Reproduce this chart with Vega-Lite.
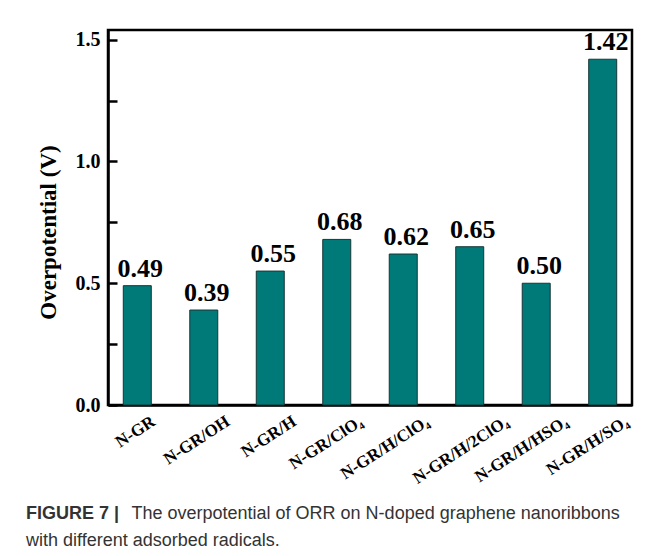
{
  "$schema": "https://vega.github.io/schema/vega-lite/v6.json",
  "autosize": "none",
  "padding": {"left": 108, "top": 30, "right": 26, "bottom": 151},
  "width": 524,
  "height": 375,
  "background": "white",
  "title": {
    "text": "FIGURE 7 |",
    "subtitle": "with different adsorbed radicals.",
    "orient": "bottom",
    "anchor": "start",
    "frame": "group",
    "dx": -82,
    "dy": -21,
    "font": "Liberation Sans",
    "fontSize": 18,
    "fontWeight": "bold",
    "color": "#333333",
    "subtitleFont": "Liberation Sans",
    "subtitleFontSize": 18,
    "subtitleColor": "#333333",
    "subtitlePadding": 9
  },
  "data": {
    "values": [
      {"name": "N-GR", "value": 0.49},
      {"name": "N-GR/OH", "value": 0.39},
      {"name": "N-GR/H", "value": 0.55},
      {"name": "N-GR/ClO₄", "value": 0.68},
      {"name": "N-GR/H/ClO₄", "value": 0.62},
      {"name": "N-GR/H/2ClO₄", "value": 0.65},
      {"name": "N-GR/H/HSO₄", "value": 0.50},
      {"name": "N-GR/H/SO₄", "value": 1.42}
    ]
  },
  "encoding": {
    "x": {
      "field": "name",
      "type": "nominal",
      "sort": null,
      "scale": {"paddingInner": 0.579, "paddingOuter": 0.23},
      "axis": {
        "ticks": false,
        "labelAngle": -33,
        "labelAlign": "right",
        "labelBaseline": "top",
        "labelOffset": {
          "condition": [
            {"test": "datum.value == 'N-GR'", "value": 12},
            {"test": "datum.value == 'N-GR/H/2ClO₄'", "value": 33},
            {"test": "datum.value == 'N-GR/H/HSO₄'", "value": 26}
          ],
          "value": 20
        },
        "labelPadding": 8,
        "labelFont": "Liberation Serif",
        "labelFontWeight": "bold",
        "labelFontSize": 17,
        "labelColor": "black",
        "title": "The overpotential of ORR on N-doped graphene nanoribbons",
        "titleX": 23,
        "titleY": 113,
        "titleAlign": "left",
        "titleBaseline": "alphabetic",
        "titleFont": "Liberation Sans",
        "titleFontWeight": "normal",
        "titleFontSize": 18,
        "titleColor": "#333333"
      }
    },
    "y": {
      "field": "value",
      "type": "quantitative",
      "scale": {"domain": [0, 1.54], "nice": false},
      "axis": {
        "values": [0, 0.25, 0.5, 0.75, 1, 1.25, 1.5],
        "labelExpr": "datum.value % 0.5 == 0 ? format(datum.value, '.1f') : ''",
        "tickSize": -9,
        "labelPadding": 17,
        "labelFont": "Liberation Serif",
        "labelFontWeight": "bold",
        "labelFontSize": 20,
        "labelColor": "black",
        "grid": false,
        "title": "Overpotential (V)",
        "titleX": -53,
        "titleY": 202,
        "titleAngle": -90,
        "titleAlign": "center",
        "titleBaseline": "alphabetic",
        "titleFont": "Liberation Serif",
        "titleFontWeight": "bold",
        "titleFontSize": 23,
        "titleColor": "black"
      }
    }
  },
  "layer": [
    {
      "mark": {"type": "bar", "color": "#007a78", "stroke": "#173535", "strokeWidth": 1}
    },
    {
      "mark": {
        "type": "text",
        "baseline": "alphabetic",
        "dy": -9,
        "dx": 3,
        "font": "Liberation Serif",
        "fontWeight": "bold",
        "fontSize": 26,
        "color": "black"
      },
      "encoding": {"text": {"field": "value", "type": "quantitative", "format": ".2f"}}
    }
  ],
  "config": {
    "view": {"stroke": "black", "strokeWidth": 2.5},
    "axis": {
      "domainColor": "black",
      "domainWidth": 2.5,
      "tickColor": "black",
      "tickWidth": 2.5
    }
  }
}
